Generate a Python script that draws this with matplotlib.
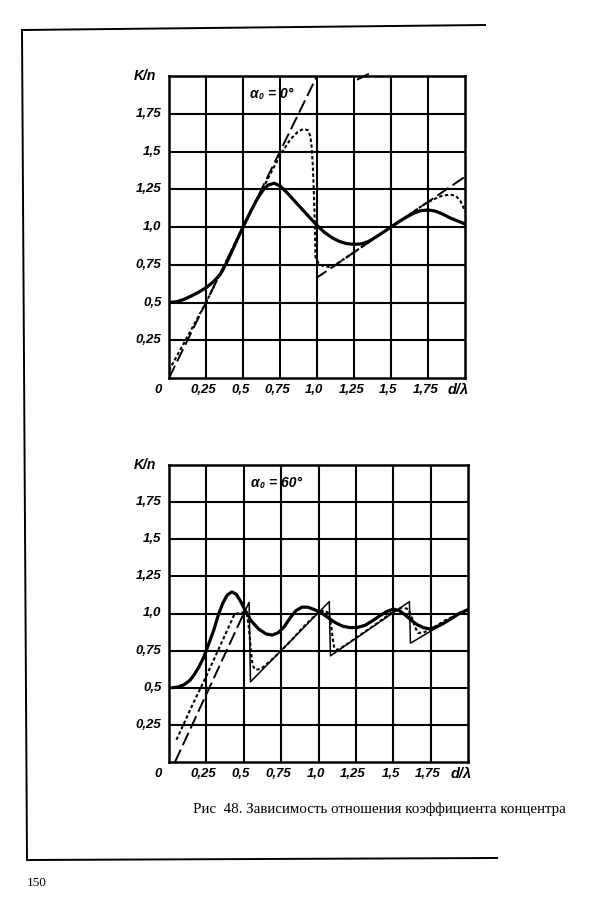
import matplotlib
matplotlib.use("Agg")
import matplotlib.pyplot as plt
from matplotlib.lines import Line2D

# ---------------- data ----------------
grid_ticks = [0.25, 0.5, 0.75, 1.0, 1.25, 1.5, 1.75]
tick_labels = ["0,25", "0,5", "0,75", "1,0", "1,25", "1,5", "1,75"]

# alpha0 = 0 deg (top)
top_solid_x = [0.0, 0.05, 0.1, 0.15, 0.2, 0.25, 0.3, 0.35, 0.4, 0.45, 0.5, 0.55, 0.6, 0.64,
               0.67, 0.71, 0.75, 0.8, 0.86, 0.93, 1.0, 1.05, 1.1, 1.15, 1.2, 1.25, 1.3, 1.35,
               1.4, 1.45, 1.5, 1.55, 1.6, 1.65, 1.7, 1.75, 1.8, 1.85, 1.9, 1.95, 2.0]
top_solid_y = [0.5, 0.505, 0.52, 0.543, 0.568, 0.598, 0.637, 0.69, 0.785, 0.893, 1.0, 1.1,
               1.193, 1.25, 1.278, 1.29, 1.272, 1.225, 1.16, 1.085, 1.01, 0.965, 0.93, 0.905,
               0.89, 0.885, 0.888, 0.905, 0.935, 0.967, 1.0, 1.033, 1.063, 1.09, 1.108, 1.113,
               1.105, 1.085, 1.06, 1.04, 1.02]

top_dot_x = [0.0, 0.1, 0.25, 0.4, 0.5, 0.6, 0.7, 0.76, 0.82, 0.87, 0.91, 0.94, 0.955, 0.965,
             0.972, 0.978, 0.983, 0.987, 0.99, 1.01, 1.04, 1.1, 1.14, 1.2, 1.4, 1.6, 1.72,
             1.78, 1.84, 1.9, 1.94, 1.97, 1.99, 2.0]
top_dot_y = [0.05, 0.23, 0.5, 0.8, 1.0, 1.19, 1.38, 1.49, 1.58, 1.63, 1.65, 1.64, 1.6, 1.52,
             1.4, 1.25, 1.1, 0.95, 0.80, 0.76, 0.742, 0.733, 0.76, 0.8, 0.933, 1.067, 1.147,
             1.18, 1.205, 1.215, 1.205, 1.17, 1.13, 1.1]

top_dash_x = [0.0, 1.0, 1.0, 2.0]
top_dash_y = [0.0, 2.0, 0.665, 1.333]
top_dash2_x = [1.27, 1.35]
top_dash2_y = [1.975, 2.015]

# alpha0 = 60 deg (bottom)
bot_solid_x = [0.02, 0.06, 0.1, 0.14, 0.17, 0.2, 0.23, 0.26, 0.3, 0.33, 0.36, 0.39, 0.42,
               0.45, 0.48, 0.51, 0.55, 0.6, 0.65, 0.69, 0.73, 0.77, 0.81, 0.85, 0.89, 0.93,
               0.97, 1.01, 1.06, 1.11, 1.16, 1.21, 1.26, 1.31, 1.36, 1.41, 1.46, 1.5, 1.54,
               1.58, 1.62, 1.66, 1.7, 1.74, 1.78, 1.83, 1.88, 1.94, 2.0]
bot_solid_y = [0.5, 0.505, 0.52, 0.55, 0.59, 0.64, 0.7, 0.78, 0.89, 0.99, 1.07, 1.125, 1.145,
               1.13, 1.08, 1.02, 0.95, 0.895, 0.862, 0.855, 0.87, 0.91, 0.97, 1.02, 1.043,
               1.042, 1.027, 1.01, 0.975, 0.94, 0.915, 0.905, 0.906, 0.92, 0.95, 0.985, 1.015,
               1.03, 1.02, 0.99, 0.955, 0.925, 0.905, 0.897, 0.905, 0.93, 0.96, 1.0, 1.025]

bot_dot_x = [0.05, 0.15, 0.25, 0.35, 0.44, 0.47, 0.5, 0.52, 0.535, 0.545, 0.555, 0.565, 0.58,
             0.62, 0.7, 0.8, 0.9, 1.0, 1.04, 1.07, 1.085, 1.095, 1.105, 1.13, 1.2, 1.3, 1.4,
             1.5, 1.56, 1.6, 1.625, 1.645, 1.665, 1.7, 1.75, 1.85, 2.0]
bot_dot_y = [0.15, 0.37, 0.58, 0.8, 1.0, 1.0, 1.01, 1.0, 0.9, 0.78, 0.68, 0.64, 0.62,
             0.63, 0.70, 0.80, 0.91, 1.01, 1.02, 1.0, 0.92, 0.83, 0.77, 0.755, 0.80, 0.87,
             0.94, 1.015, 1.04, 1.03, 0.97, 0.91, 0.87, 0.87, 0.895, 0.955, 1.03]

saw_x = [0.04, 0.5, 0.536, 0.545, 1.072, 1.08, 1.608, 1.615, 2.0]
saw_y = [0.0, 1.0, 1.075, 0.54, 1.08, 0.715, 1.08, 0.80, 1.03]

caption = "Рис  48. Зависимость отношения коэффициента концентра"
page_no = "150"

# ---------------- figure ----------------
W, H = 600, 919
fig = plt.figure(figsize=(W / 100, H / 100), dpi=100)
fig.patch.set_facecolor("white")

lab_font = dict(family=["Liberation Sans", "DejaVu Sans"], style="italic",
                weight="bold", size=9.5)

LONG = (0, (7, 2.5))
SHORT = (0, (1.6, 1.2))


def px_axes(left, top, right, bottom):
    return fig.add_axes([left / W, 1 - bottom / H, (right - left) / W, (bottom - top) / H])


def style(ax, title):
    ax.set_xlim(0, 2)
    ax.set_ylim(0, 2)
    ax.set_xticks(grid_ticks)
    ax.set_yticks(grid_ticks)
    ax.set_xticklabels([])
    ax.set_yticklabels([])
    ax.tick_params(length=0)
    ax.grid(True, color="black", lw=1.5)
    ax.set_axisbelow(True)
    for s in ax.spines.values():
        s.set_linewidth(1.8)
    for t, lab in zip(grid_ticks, tick_labels):
        ax.annotate(lab, xy=(0, t), xycoords=("axes fraction", "data"), xytext=(-5.5, 0),
                    textcoords="offset points", ha="right", va="center", **lab_font)
        ax.annotate(lab, xy=(t, 0), xycoords=("data", "axes fraction"), xytext=(-2, -4),
                    textcoords="offset points", ha="center", va="top", **lab_font)
    ax.annotate("0", xy=(0, 0), xycoords="axes fraction", xytext=(-8, -4),
                textcoords="offset points", ha="center", va="top", **lab_font)
    ax.annotate("d/λ", xy=(1, 0), xycoords="axes fraction", xytext=(-5, -3.5),
                textcoords="offset points", ha="center", va="top",
                **{**lab_font, "size": 10.5})
    ax.annotate("K/n", xy=(0, 1), xycoords="axes fraction", xytext=(-9, 0),
                textcoords="offset points", ha="right", va="center",
                **{**lab_font, "size": 10})
    ax.text(0.55, 1.88, title, ha="left", va="center", **{**lab_font, "size": 10})


# top axes
ax1 = px_axes(169, 76, 465, 378)
style(ax1, "α₀ = 0°")
ax1.plot(top_dash_x, top_dash_y, color="black", lw=1.4, linestyle=LONG)
ax1.plot(top_dash2_x, top_dash2_y, color="black", lw=1.4, linestyle=LONG, clip_on=False)
ax1.plot(top_dot_x, top_dot_y, color="black", lw=1.5, linestyle=SHORT)
ax1.plot(top_solid_x, top_solid_y, color="black", lw=2.3, solid_capstyle="round",
         solid_joinstyle="round")

# bottom axes
ax2 = px_axes(169, 465, 468, 762)
style(ax2, "α₀ = 60°")
ax2.plot(saw_x[:2], saw_y[:2], color="black", lw=1.4, linestyle=LONG)
ax2.plot(saw_x[1:], saw_y[1:], color="black", lw=1.1)
ax2.plot(bot_dot_x, bot_dot_y, color="black", lw=1.5, linestyle=SHORT)
ax2.plot(bot_solid_x, bot_solid_y, color="black", lw=2.3, solid_capstyle="round",
         solid_joinstyle="round")


# page frame
def fline(xs, ys, lw=1.4):
    fig.add_artist(Line2D([x / W for x in xs], [1 - y / H for y in ys],
                          transform=fig.transFigure, color="black", lw=lw))


fline([22, 485], [30, 25])
fline([22, 27], [30, 860])
fline([27, 497], [860, 858])

fig.text(193 / W, 1 - 813 / H, caption, family=["Liberation Serif", "DejaVu Serif"],
         size=10.8, ha="left", va="baseline")
fig.text(27 / W, 1 - 886 / H, page_no, family=["Liberation Serif", "DejaVu Serif"],
         size=9.5, ha="left", va="baseline")

fig.savefig("out.png", dpi=100, facecolor="white")
